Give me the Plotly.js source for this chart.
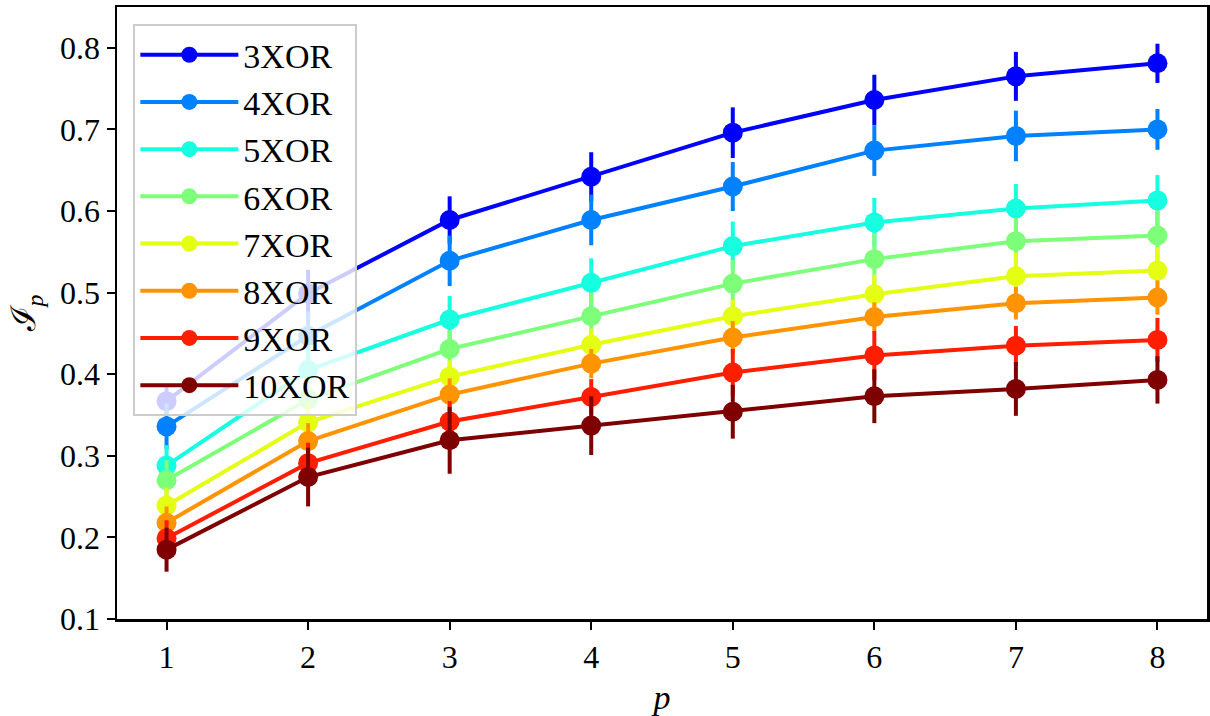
<!DOCTYPE html>
<html>
<head>
<meta charset="utf-8">
<script src="https://cdn.plot.ly/plotly-3.0.1.min.js"></script>
<style>html,body{margin:0;padding:0;background:#fff;}#chart{width:1210px;height:716px;}</style>
</head>
<body>
<div id="chart"></div>
<script>
// ---- data ----
const pValues = [1, 2, 3, 4, 5, 6, 7, 8];
const seriesNames = ["3XOR", "4XOR", "5XOR", "6XOR", "7XOR", "8XOR", "9XOR", "10XOR"];

const xor3  = [0.367, 0.499, 0.589, 0.642, 0.696, 0.736, 0.765, 0.781];
const xor4  = [0.336, 0.447, 0.539, 0.589, 0.630, 0.674, 0.692, 0.700];
const xor5  = [0.288, 0.405, 0.467, 0.512, 0.557, 0.586, 0.603, 0.613];
const xor6  = [0.270, 0.369, 0.431, 0.471, 0.511, 0.541, 0.563, 0.570];
const xor7  = [0.239, 0.341, 0.397, 0.436, 0.471, 0.498, 0.520, 0.527];
const xor8  = [0.218, 0.318, 0.375, 0.413, 0.445, 0.470, 0.487, 0.494];
const xor9  = [0.199, 0.291, 0.342, 0.372, 0.402, 0.423, 0.435, 0.442];
const xor10 = [0.185, 0.274, 0.319, 0.337, 0.354, 0.373, 0.382, 0.393];

const err3  = [0.017, 0.029, 0.029, 0.030, 0.031, 0.031, 0.030, 0.024];
const err4  = [0.028, 0.030, 0.031, 0.031, 0.030, 0.031, 0.031, 0.025];
const err5  = [0.025, 0.030, 0.029, 0.030, 0.030, 0.030, 0.030, 0.031];
const err6  = [0.025, 0.028, 0.023, 0.029, 0.029, 0.032, 0.029, 0.031];
const err7  = [0.022, 0.025, 0.020, 0.020, 0.020, 0.024, 0.029, 0.029];
const err8  = [0.020, 0.022, 0.020, 0.018, 0.020, 0.018, 0.020, 0.021];
const err9  = [0.022, 0.025, 0.025, 0.022, 0.029, 0.030, 0.024, 0.027];
const err10 = [0.027, 0.036, 0.041, 0.036, 0.033, 0.033, 0.033, 0.029];

const seriesValues = [xor3, xor4, xor5, xor6, xor7, xor8, xor9, xor10];
const seriesErrors = [err3, err4, err5, err6, err7, err8, err9, err10];
const seriesColors = ["#0000ff", "#0081ff", "#16ffe1", "#7dff7a", "#e4ff13", "#ff9400", "#ff1e00", "#7f0000"];

const yTicks = [0.1, 0.2, 0.3, 0.4, 0.5, 0.6, 0.7, 0.8];

const FONT = "Liberation Serif, DejaVu Serif, serif";

const traces = seriesNames.map((name, i) => ({
  type: "scatter",
  mode: "lines+markers",
  name: name,
  x: pValues,
  y: seriesValues[i],
  error_y: {type: "data", array: seriesErrors[i], visible: true, color: seriesColors[i], thickness: 4, width: 0},
  line: {color: seriesColors[i], width: 4},
  marker: {color: seriesColors[i], size: 20}
}));

const layout = {
  width: 1210,
  height: 716,
  margin: {l: 117, r: 3, t: 7, b: 97},
  paper_bgcolor: "#ffffff",
  plot_bgcolor: "#ffffff",
  font: {family: FONT, color: "#000000", size: 32},
  showlegend: true,
  legend: {
    x: 0.015, y: 0.972, xanchor: "left", yanchor: "top",
    bgcolor: "rgba(255,255,255,0.8)",
    bordercolor: "#cccccc",
    borderwidth: 2,
    font: {family: FONT, size: 34, color: "#000000"},
    itemwidth: 98
  },
  xaxis: {
    range: [0.65, 8.35],
    tickmode: "array",
    tickvals: pValues,
    ticktext: pValues.map(String),
    ticks: "outside", ticklen: 8, tickwidth: 2, tickcolor: "#000",
    showline: true, mirror: true, linewidth: 2.5, linecolor: "#000",
    showgrid: false, zeroline: false,
    tickfont: {family: FONT, size: 32},
    title: {text: "<i>p</i>", font: {family: FONT, size: 34}, standoff: 12}
  },
  yaxis: {
    range: [0.1, 0.85],
    tickmode: "array",
    tickvals: yTicks,
    ticktext: yTicks.map(v => v.toFixed(1)),
    ticks: "outside", ticklen: 8, tickwidth: 2, tickcolor: "#000",
    showline: true, mirror: true, linewidth: 2.5, linecolor: "#000",
    showgrid: false, zeroline: false,
    tickfont: {family: FONT, size: 32},
    title: {text: "ℐ<sub><i>p</i></sub>", font: {family: FONT, size: 34}, standoff: 14}
  }
};

Plotly.newPlot("chart", traces, layout, {displayModeBar: false, staticPlot: true});
</script>
</body>
</html>
